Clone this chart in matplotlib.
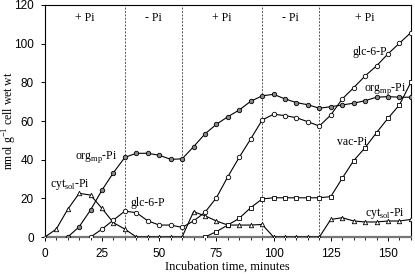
import matplotlib
matplotlib.use("Agg")
import matplotlib.pyplot as plt
import numpy as np

# time points (minutes)
t_org = np.arange(10, 161, 5)
org_mp = [0, 5.3, 14, 24.3, 33.3, 41.2, 43.3, 43.3, 42.3, 40.2, 40.4,
          46.7, 53.3, 58.3, 62.2, 65.7, 70.2, 73, 73.8, 71.4, 69.5, 68.4,
          66.6, 67.4, 68.3, 69.2, 70.5, 72.3, 72.6, 72.3, 72.3]

t_glc = np.arange(20, 161, 5)
glc6p = [0, 4.1, 8.8, 13.4, 12.6, 8.4, 6.2, 6.2, 5.0, 8.3, 12.8, 20.3,
         31.2, 41.3, 50.7, 60.5, 63.5, 62.8, 61.7, 59.6, 57.4, 63.1, 71.4,
         77.2, 83.3, 88.5, 94.7, 100.2, 105.7]

t_cyt = np.arange(0, 161, 5)
cyt_sol = [0, 4.1, 14.3, 22.6, 21.7, 14.8, 7.4, 4.1, 0, 0, 0, 0, 0,
           13.1, 11, 8.3, 6.2, 6.2, 6.2, 6.5, 0, 0, 0, 0, 0,
           9.1, 10, 8.3, 7.8, 7.8, 8.3, 8.3, 9.1]

t_vac = np.arange(70, 161, 5)
vac = [0, 2.8, 6.2, 9.7, 15.2, 19.7, 20.3, 20.3, 20.3, 20.3, 20.3,
       20.9, 30.4, 39.5, 46.2, 54, 61.4, 68.3, 80]

switches = [35, 60, 95, 120]
phase_x = [17.5, 47.5, 77.5, 107.5, 140]
phase_txt = ["+ Pi", "- Pi", "+ Pi", "- Pi", "+ Pi"]

serif = "Liberation Serif"
sans = "Liberation Sans"

fig = plt.figure(figsize=(4.15, 2.75), dpi=100)
ax = fig.add_axes([0.108, 0.138, 0.882, 0.844])

for s in switches:
    ax.axvline(s, color="#555555", ls=(0, (2, 1.5)), lw=0.7, zorder=1)

mk = dict(color="black", lw=0.8, ms=3.2, mew=0.6, zorder=3)
ax.plot(t_cyt, cyt_sol, marker="^", mfc="white", **mk)
ax.plot(t_vac, vac, marker="s", mfc="white", **mk)
ax.plot(t_glc, glc6p, marker="o", mfc="white", **mk)
ax.plot(t_org, org_mp, marker="o", mfc="#888888", **mk)

for x, s in zip(phase_x, phase_txt):
    ax.text(x, 113, s, ha="center", va="center", fontsize=8.5, family=serif)

lab = dict(fontsize=8.5, family=serif, va="center")
ax.text(31.6, 41.4, "org$_{\\mathregular{mp}}$-Pi", ha="right", **lab)
ax.text(2.2, 27.4, "cyt$_{\\mathregular{sol}}$-Pi", ha="left", **lab)
ax.text(37.3, 17.6, "glc-6-P", ha="left", **lab)
ax.text(134.6, 95.7, "glc-6-P", ha="left", **lab)
ax.text(139.5, 76.6, "org$_{\\mathregular{mp}}$-Pi", ha="left", **lab)
ax.text(127.6, 49, "vac-Pi", ha="left", **lab)
ax.text(140, 12.4, "cyt$_{\\mathregular{sol}}$-Pi", ha="left", **lab)

ax.set_xlim(0, 160)
ax.set_ylim(0, 120)
ax.set_xticks(np.arange(0, 151, 25))
ax.set_xticks(np.arange(0, 161, 5), minor=True)
ax.set_yticks(np.arange(0, 121, 20))
ax.tick_params(direction="out", length=3, width=0.7, labelsize=8.5)
ax.tick_params(axis="x", pad=5)
ax.tick_params(axis="y", pad=5)
ax.tick_params(which="minor", direction="out", length=2, width=0.6)
for lbl in ax.get_xticklabels() + ax.get_yticklabels():
    lbl.set_family(sans)
for sp in ax.spines.values():
    sp.set_linewidth(0.8)
ax.spines["bottom"].set_color("#777777")
ax.spines["bottom"].set_linewidth(1.6)

ax.set_xlabel("Incubation time, minutes", fontsize=9, family=serif)
ax.xaxis.set_label_coords(0.5, -0.1)
ax.set_ylabel("nmol g$^{\\mathregular{-1}}$ cell wet wt", fontsize=8.5,
              family=serif)
ax.yaxis.set_label_coords(-0.07, 0.5)

fig.savefig("out.png", dpi=100)
